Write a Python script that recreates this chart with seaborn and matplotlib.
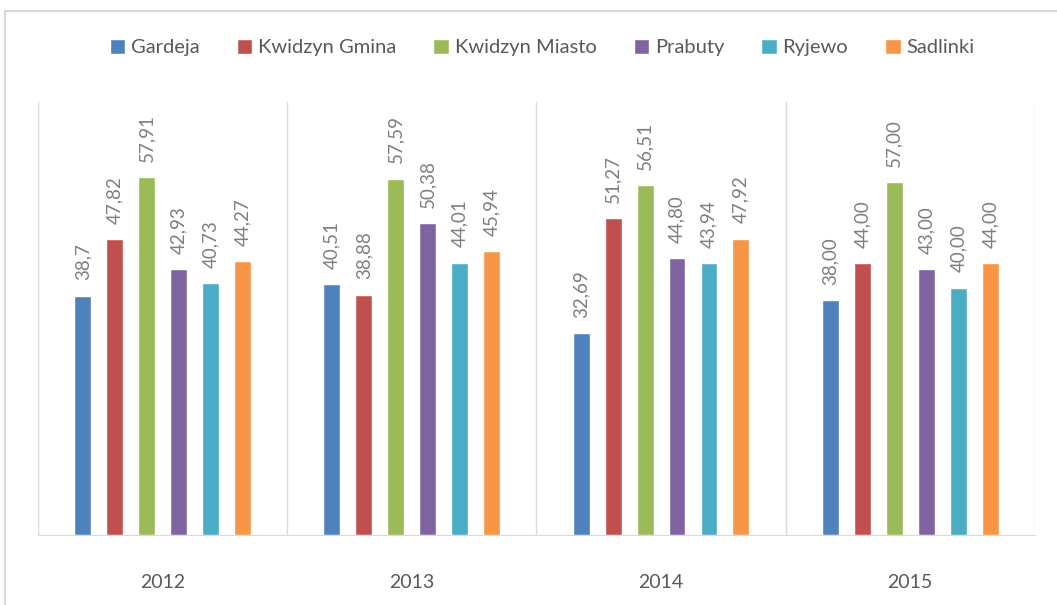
import matplotlib
matplotlib.use("Agg")
import matplotlib.pyplot as plt
from matplotlib.lines import Line2D
import seaborn as sns
import pandas as pd

years = ["2012", "2013", "2014", "2015"]
series = ["Gardeja", "Kwidzyn Gmina", "Kwidzyn Miasto", "Prabuty", "Ryjewo", "Sadlinki"]
gardeja = [38.7, 40.51, 32.69, 38.00]
kwidzyn_gmina = [47.82, 38.88, 51.27, 44.00]
kwidzyn_miasto = [57.91, 57.59, 56.51, 57.00]
prabuty = [42.93, 50.38, 44.80, 43.00]
ryjewo = [40.73, 44.01, 43.94, 40.00]
sadlinki = [44.27, 45.94, 47.92, 44.00]
colors = ["#4F81BD", "#C0504D", "#9BBB59", "#8064A2", "#4BACC6", "#F79646"]


def fmt(v):
    # Excel shows 38,7 for the first value, two decimals elsewhere
    s = f"{v:.2f}" if v != 38.7 else "38.7"
    return s.replace(".", ",")


values = [gardeja, kwidzyn_gmina, kwidzyn_miasto, prabuty, ryjewo, sadlinki]
rows = []
for name, vals in zip(series, values):
    for y, v in zip(years, vals):
        rows.append({"year": y, "series": name, "value": v})
df = pd.DataFrame(rows)

sns.set_style("white")
plt.rcParams["font.family"] = ["Lato", "DejaVu Sans"]

fig = plt.figure(figsize=(10.57, 6.05), dpi=100)
ax = fig.add_axes([0.036, 0.1157, 0.943, 0.7157])

sns.barplot(data=df, x="year", y="value", hue="series", hue_order=series,
            order=years, palette=colors, width=0.77, gap=0.47,
            saturation=1, ax=ax, legend=True)

for cont, vals in zip(ax.containers, values):
    ax.bar_label(cont, labels=[fmt(v) for v in vals], rotation=90, padding=11,
                 fontsize=13.5, color="#7f7f7f")

ax.set_xlim(-0.5, 3.5)
ax.set_ylim(0, 70)
ax.set_yticks([])
ax.set_xlabel("")
ax.set_ylabel("")
for b in [-0.5, 0.5, 1.5, 2.5, 3.5]:
    ax.axvline(b, color="#d9d9d9", lw=1, zorder=0)
for s in ["top", "left", "right"]:
    ax.spines[s].set_visible(False)
ax.spines["bottom"].set_color("#d9d9d9")
ax.tick_params(axis="x", length=0, pad=28, labelsize=14, labelcolor="#595959")

handles, labs = ax.get_legend_handles_labels()
ax.get_legend().remove()
fig.legend(handles, labs, loc="center", bbox_to_anchor=(0.513, 0.921), ncol=6,
           frameon=False, fontsize=14.5, handlelength=0.75, handleheight=0.75,
           handletextpad=0.3, columnspacing=1.85, labelcolor="#595959")

# chart frame
fig.add_artist(Line2D([0.0047, 1.0], [0.982, 0.982], color="#d9d9d9", lw=1.5))
fig.add_artist(Line2D([0.0047, 0.0047], [0.0, 0.982], color="#d9d9d9", lw=1.5))

fig.savefig("out.png", dpi=100)
